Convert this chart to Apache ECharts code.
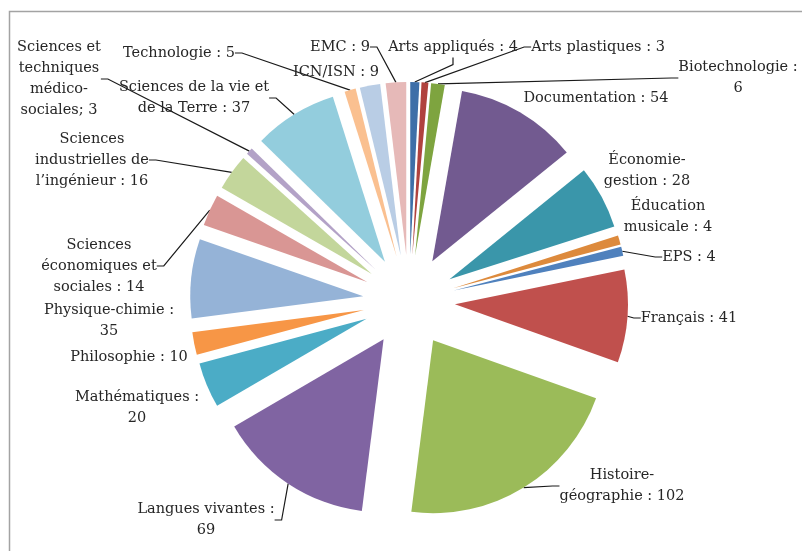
<!DOCTYPE html>
<html>
<head>
<meta charset="utf-8">
<script src="https://cdn.jsdelivr.net/npm/echarts@6/dist/echarts.min.js"></script>
<style>
  html, body { margin: 0; padding: 0; background: #ffffff; }
  #chart { width: 802px; height: 551px; }
</style>
</head>
<body>
<div id="chart"></div>
<script>
// Number of teachers per subject, in the order the slices run clockwise from 12 o'clock
const subjects = [
  'Arts appliqués', 'Arts plastiques', 'Biotechnologie', 'Documentation',
  'Économie-gestion', 'Éducation musicale', 'EPS', 'Français',
  'Histoire-géographie', 'Langues vivantes', 'Mathématiques', 'Philosophie',
  'Physique-chimie', 'Sciences économiques et sociales',
  'Sciences industrielles de l’ingénieur', 'Sciences et techniques médico-sociales',
  'Sciences de la vie et de la Terre', 'Technologie', 'ICN/ISN', 'EMC'
];
const counts = [4, 3, 6, 54, 28, 4, 4, 41, 102, 69, 20, 10, 35, 14, 16, 3, 37, 5, 9, 9];

// Label text as wrapped in the chart; {v} is replaced by the slice value
const labelTexts = [
  'Arts appliqués : {v}', 'Arts plastiques : {v}', 'Biotechnologie :\n{v}', 'Documentation : {v}',
  'Économie-\ngestion : {v}', 'Éducation\nmusicale : {v}', 'EPS : {v}', 'Français : {v}',
  'Histoire-\ngéographie : {v}', 'Langues vivantes :\n{v}', 'Mathématiques :\n{v}', 'Philosophie : {v}',
  'Physique-chimie :\n{v}', 'Sciences\néconomiques et\nsociales : {v}',
  'Sciences\nindustrielles de\nl’ingénieur : {v}', 'Sciences et\ntechniques\nmédico-\nsociales; {v}',
  'Sciences de la vie et\nde la Terre : {v}', 'Technologie : {v}', 'ICN/ISN : {v}', 'EMC : {v}'
];

// Slice colours (office palette: shaded, base, then tinted accents)
const sliceColors = [
  '#3e6fa8', '#b0423e', '#7ea43f', '#725a90', '#3a96aa', '#dd8a3c',
  '#4f81bd', '#c0504d', '#9bbb59', '#8064a2', '#4bacc6', '#f79646',
  '#95b3d7', '#d99694', '#c3d69b', '#b3a2c7', '#93cddd', '#fac090',
  '#b9cde5', '#e6b9b8'
];

// Label placement (centre of each text block) and whether a leader line is drawn
const labelLayoutTable = {
  'Arts appliqués': { at: [453, 47], leader: true },
  'Arts plastiques': { at: [598, 47], leader: true },
  'Biotechnologie': { at: [738, 78], leader: true },
  'Documentation': { at: [596, 98], leader: false },
  'Économie-gestion': { at: [647, 171], leader: false },
  'Éducation musicale': { at: [668, 217], leader: false },
  'EPS': { at: [689, 257], leader: true },
  'Français': { at: [689, 318], leader: true },
  'Histoire-géographie': { at: [622, 486], leader: true },
  'Langues vivantes': { at: [206, 520], leader: true },
  'Mathématiques': { at: [137, 408], leader: false },
  'Philosophie': { at: [129, 357], leader: false },
  'Physique-chimie': { at: [109, 321], leader: false },
  'Sciences économiques et sociales': { at: [99, 266], leader: true },
  'Sciences industrielles de l’ingénieur': { at: [92, 160], leader: true },
  'Sciences et techniques médico-sociales': { at: [59, 79], leader: true },
  'Sciences de la vie et de la Terre': { at: [194, 98], leader: true },
  'Technologie': { at: [179, 53], leader: true },
  'ICN/ISN': { at: [336, 72], leader: false },
  'EMC': { at: [340, 47], leader: true }
};

// Pie geometry: centre, radius and how far every slice is pulled out
const pieCenter = [409, 301];
const pieRadius = 173;
const explode = 46;

const total = counts.reduce((a, b) => a + b, 0);

// Each slice is its own pie series holding the full data set (so the library
// lays out the angles); only one sector is painted, with its centre pushed
// outwards along that sector's bisector.
function explodedSeries(index) {
  const before = counts.slice(0, index).reduce((a, b) => a + b, 0);
  const mid = (before + counts[index] / 2) / total * 2 * Math.PI;
  const center = [
    pieCenter[0] + explode * Math.sin(mid),
    pieCenter[1] - explode * Math.cos(mid)
  ];
  const leader = labelLayoutTable[subjects[index]].leader;
  return {
    type: 'pie',
    center: center,
    radius: pieRadius,
    startAngle: 90,
    clockwise: true,
    avoidLabelOverlap: false,
    silent: true,
    emphasis: { disabled: true },
    itemStyle: { borderWidth: 0 },
    label: {
      show: true,
      position: 'outside',
      fontFamily: 'DejaVu Serif',
      fontSize: 14.5,
      lineHeight: 21,
      color: '#262626',
      formatter: p => labelTexts[p.dataIndex].replace('{v}', p.value)
    },
    labelLine: {
      show: leader,
      length: 10,
      length2: 7,
      lineStyle: { color: '#1a1a1a', width: 1.2 }
    },
    labelLayout: p => {
      const cfg = labelLayoutTable[subjects[p.dataIndex]];
      return { x: cfg.at[0], y: cfg.at[1], align: 'center', verticalAlign: 'middle' };
    },
    data: subjects.map((name, j) => ({
      name: name,
      value: counts[j],
      itemStyle: { color: j === index ? sliceColors[j] : 'rgba(0,0,0,0)' },
      label: { show: j === index },
      labelLine: { show: j === index && leader }
    }))
  };
}

const chart = echarts.init(document.getElementById('chart'), null, { renderer: 'canvas' });

chart.setOption({
  animation: false,
  backgroundColor: '#ffffff',
  graphic: [{
    type: 'rect',
    silent: true,
    shape: { x: 9.5, y: 11.5, width: 900, height: 700 },
    style: { fill: 'none', stroke: '#a3a3a3', lineWidth: 1.5 }
  }],
  series: subjects.map((_, i) => explodedSeries(i))
});
</script>
</body>
</html>
